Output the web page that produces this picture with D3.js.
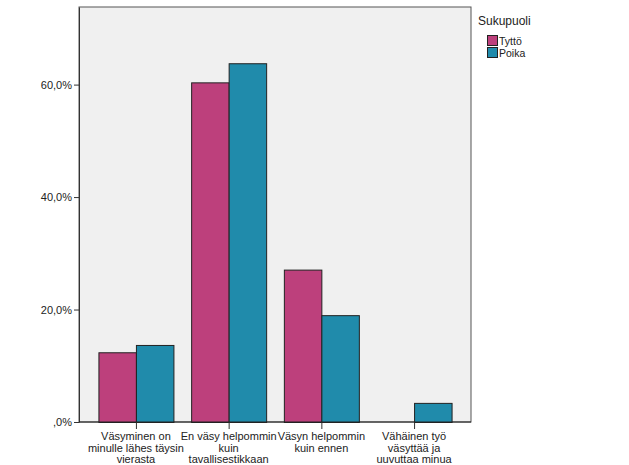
<!DOCTYPE html>
<html><head><meta charset="utf-8">
<script src="https://cdn.jsdelivr.net/npm/d3@7"></script>
<style>body{margin:0;background:#fff}svg{display:block;font-family:Arial,"Liberation Sans",sans-serif}</style>
</head><body><svg id="c" width="629" height="465"></svg>
<script>
const categories = [
  ["Väsyminen on","minulle lähes täysin","vierasta"],
  ["En väsy helpommin","kuin","tavallisestikkaan"],
  ["Väsyn helpommin","kuin ennen"],
  ["Vähäinen työ","väsyttää ja","uuvuttaa minua"]
];
const seriesNames = ["Tyttö","Poika"];
const tytto = [12.4, 60.4, 27.1, 0];
const poika = [13.7, 63.8, 19.0, 3.4];
const yTicks = [0, 20, 40, 60];
const yTickLabels = [",0%", "20,0%", "40,0%", "60,0%"];
const legendTitle = "Sukupuoli";
const colors = ["#bd407c", "#208bab"];

const svg = d3.select("#c");
const L = 79, R = 471, T = 7, B = 422;
const x = d3.scalePoint().domain(d3.range(categories.length)).range([L, R]).padding(0.614);
const y = d3.scaleLinear().domain([0, 73.8]).range([B, T]);
const bw = 37.5;

svg.append("rect").attr("x", L).attr("y", T).attr("width", R - L).attr("height", B - T)
  .attr("fill", "#f0f0f0").attr("stroke", "#555").attr("stroke-width", 1);

[tytto, poika].forEach((vals, s) => {
  svg.append("g").selectAll("rect").data(vals.map((v, i) => ({v, i})).filter(d => d.v > 0))
    .enter().append("rect")
    .attr("x", d => x(d.i) + (s === 0 ? -bw : 0) + 0.5)
    .attr("y", d => y(d.v) + 0.5)
    .attr("width", bw)
    .attr("height", d => y(0) - y(d.v))
    .attr("fill", colors[s]).attr("stroke", "#222").attr("stroke-width", 1);
});

const yAxis = d3.axisLeft(y).tickValues(yTicks).tickFormat((d, i) => yTickLabels[i])
  .tickSize(5).tickSizeOuter(0).tickPadding(2);
const gy = svg.append("g").attr("transform", `translate(${L},0)`).call(yAxis);
gy.select(".domain").attr("stroke", "#333");
gy.selectAll(".tick line").attr("stroke", "#333");
gy.selectAll("text").attr("font-size", 11).attr("fill", "#222").attr("font-family", "Arial, 'Liberation Sans', sans-serif");

const xAxis = d3.axisBottom(x).tickSize(7).tickSizeOuter(0).tickFormat("");
const gx = svg.append("g").attr("transform", `translate(0,${B})`).call(xAxis);
gx.select(".domain").remove();
gx.selectAll(".tick line").attr("stroke", "#333");
svg.append("line").attr("x1", L).attr("x2", R).attr("y1", B).attr("y2", B).attr("stroke", "#222");

categories.forEach((lines, i) => {
  const t = svg.append("text").attr("text-anchor", "middle").attr("font-size", 11).attr("fill", "#222");
  lines.forEach((ln, j) => t.append("tspan").attr("x", x(i)).attr("y", 440 + j * 11.7).text(ln));
});

svg.append("text").attr("x", 478).attr("y", 25).attr("font-size", 12).attr("fill", "#222").text(legendTitle);
seriesNames.forEach((n, i) => {
  svg.append("rect").attr("x", 487.5).attr("y", 35.5 + i * 12).attr("width", 10).attr("height", 10)
    .attr("fill", colors[i]).attr("stroke", "#222");
  svg.append("text").attr("x", 499).attr("y", 45 + i * 12).attr("font-size", 10.5).attr("fill", "#222").text(n);
});
</script></body></html>
